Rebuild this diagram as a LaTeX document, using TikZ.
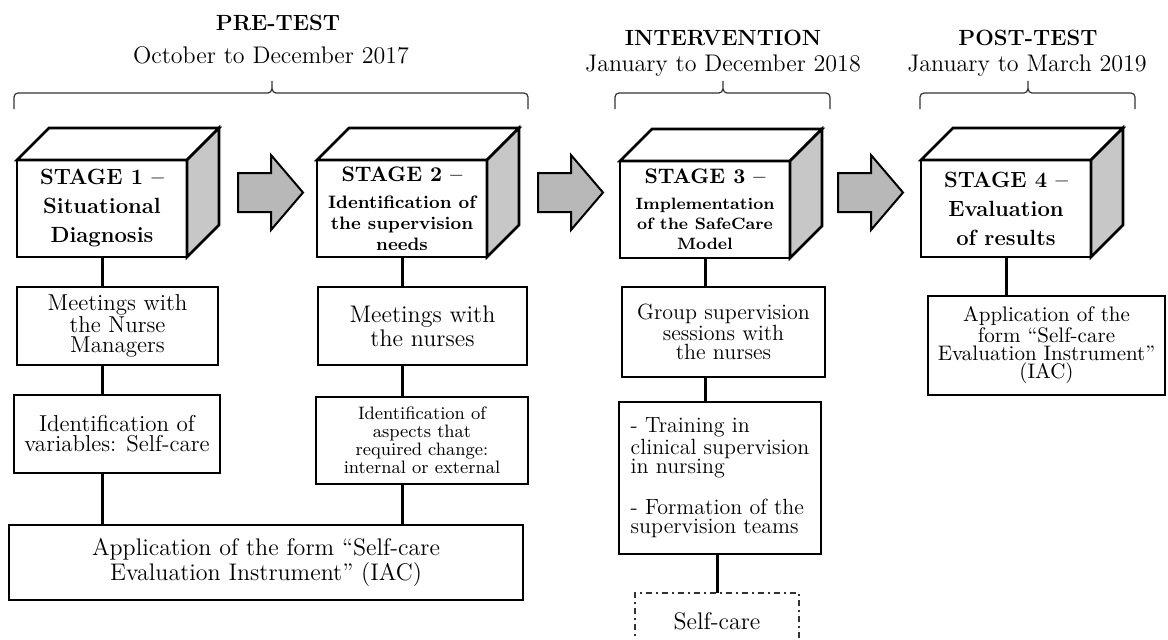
\documentclass[tikz,border=0pt]{standalone}
\newcommand\txtsize[2]{\fontsize{#1}{#2}\selectfont}

\begin{document}
\begin{tikzpicture}[x=0.5pt, y=-0.5pt,
    every node/.style={inner sep=0pt, outer sep=0pt},
    stagebox/.style={draw, line width=1.3pt, fill=white, minimum width=85pt, minimum height=48.5pt, align=center},
    itembox/.style={draw, line width=1pt, fill=white, align=center},
    cubeline/.style={line width=1.3pt},
    blockarrow/.style={draw, line width=1pt, fill=black!28},
    link/.style={line width=1.5pt},
    bracket/.style={line width=0.6pt, draw=black!80},
    heading/.style={anchor=base, font={\bfseries\txtsize{11}{13}}},
    period/.style={anchor=base, font={\txtsize{12}{14}}}]
    \useasboundingbox (0,0) rectangle (1168,639);

    % Phase headings
    \node[heading] (pre) at (278,30) {PRE-TEST};
    \node[period] (preDate) at (271,63) {October to December 2017};
    \node[heading] (int) at (723,45) {INTERVENTION};
    \node[period] (intDate) at (723,71) {January to December 2018};
    \node[heading] (post) at (1028,45) {POST-TEST};
    \node[period] (postDate) at (1027,71) {January to March 2019};

    % Brackets under the headings
    \foreach \a/\m/\b in {14/272/528, 615/723/830, 920/1028/1135}
        \draw[bracket] (\a,109) -- (\a,97) to[out=90,in=180] (\a+4,93) -- (\m-4,93)
            to[out=0,in=-90] (\m,81) to[out=-90,in=180] (\m+4,93) -- (\b-4,93)
            to[out=0,in=90] (\b,97) -- (\b,109);

    % Stage cubes (front faces)
    \node[stagebox, font={\bfseries\txtsize{11}{14.5}}] (s1) at (102,208.5) {STAGE 1 –\\Situational\\Diagnosis};
    \node[stagebox, font={\bfseries\txtsize{9}{10.5}}] (s2) at (402,208.5) {{\txtsize{10.5}{10.5}STAGE 2 –}\\[3pt]Identification of\\the supervision\\needs};
    \node[stagebox, font={\bfseries\txtsize{8.2}{10}}] (s3) at (705,209.5) {{\txtsize{10.5}{10}STAGE 3 –}\\[3pt]Implementation\\of the SafeCare\\Model};
    \node[stagebox, font={\bfseries\txtsize{11}{14.5}}] (s4) at (1006,208.5) {STAGE 4 –\\Evaluation\\of results};

    % Top and side faces
    \foreach \s in {s1,s2,s3,s4} {
        \draw[cubeline, fill=white] (\s.north west) -- ++(32,-32) -- ++(170,0) -- (\s.north east) -- cycle;
        \draw[cubeline, fill=black!22] (\s.north east) -- ++(32,-32) -- ++(0,97) -- (\s.south east) -- cycle;
    }

    % Block arrows between the stages
    \foreach \x in {238,538,838}
        \draw[blockarrow] (\x,173) -- (\x+33,173) -- (\x+33,155) -- (\x+65,192.5)
            -- (\x+33,230) -- (\x+33,212) -- (\x,212) -- cycle;

    % Stage 1 and 2 boxes
    \node[itembox, minimum width=100.5pt, minimum height=39pt, font={\txtsize{11.5}{10}}] (m1) at (117.5,326) {Meetings with\\the Nurse\\Managers};
    \node[itembox, minimum width=103pt, minimum height=39pt, font={\txtsize{11.5}{10}}] (id1) at (117,434) {Identification of\\variables: Self-care};
    \node[itembox, minimum width=104.5pt, minimum height=39pt, font={\txtsize{12}{10.5}}] (m2) at (422.5,326) {Meetings with\\the nurses};
    \node[itembox, minimum width=106pt, minimum height=43.5pt, font={\txtsize{9}{9}}] (id2) at (422,440.5) {Identification of\\aspects that\\required change:\\internal or external};
    \node[itembox, minimum width=257pt, minimum height=37.5pt, font={\txtsize{12}{12.5}}] (app1) at (266,562.5) {Application of the form “Self-care\\Evaluation Instrument” (IAC)};

    % Stage 3 boxes
    \node[itembox, minimum width=101.5pt, minimum height=45pt, font={\txtsize{11}{9.5}}] (grp) at (723.5,332) {Group supervision\\sessions with\\the nurses};
    \node[itembox, align=left, minimum width=101pt, minimum height=76pt, font={\txtsize{11}{9.5}}] (trn) at (720,478) {- Training in\\clinical supervision\\in nursing\\[9.5pt]- Formation of the\\supervision teams};
    \node[itembox, dash dot, draw=black!80, minimum width=82pt, minimum height=28.5pt, font={\txtsize{12}{14}}] (self) at (717,621.5) {Self-care};

    % Stage 4 box
    \node[itembox, minimum width=118.5pt, minimum height=49.5pt, font={\txtsize{10.5}{9}}] (app2) at (1046.5,345.5) {Application of the\\form “Self-care\\Evaluation Instrument”\\(IAC)};

    % Connectors
    \draw[link] (s1.south) -- (s1.south |- m1.north);
    \draw[link] (s1.south |- m1.south) -- (s1.south |- id1.north);
    \draw[link] (s1.south |- id1.south) -- (s1.south |- app1.north);
    \draw[link] (s2.south) -- (s2.south |- m2.north);
    \draw[link] (s2.south |- m2.south) -- (s2.south |- id2.north);
    \draw[link] (s2.south |- id2.south) -- (s2.south |- app1.north);
    \draw[link] (s3.south) -- (s3.south |- grp.north);
    \draw[link] (s3.south |- grp.south) -- (s3.south |- trn.north);
    \draw[link] (self.north |- trn.south) -- (self.north);
    \draw[link] (s4.south) -- (s4.south |- app2.north);
\end{tikzpicture}
\end{document}
